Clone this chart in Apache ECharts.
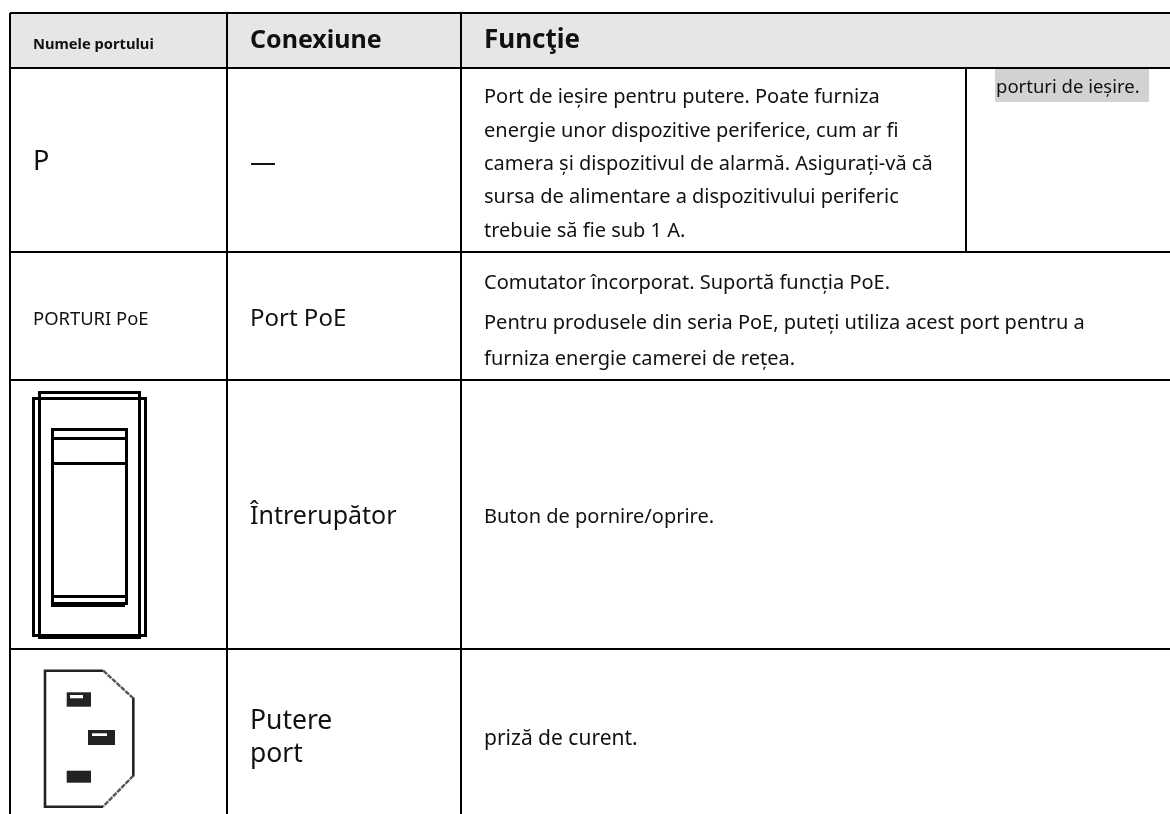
<!DOCTYPE html>
<html><head><meta charset="utf-8">
<style>html,body{margin:0;padding:0;background:#fff}#c{width:1170px;height:814px}</style>
<script src="https://cdn.jsdelivr.net/npm/echarts@6/dist/echarts.min.js"></script>
</head><body><div id="c"></div>
<script>
const F='"Noto Sans","Open Sans",sans-serif';
const headers=[["Numele portului",33,45,14.7,700],["Conexiune",250,41,25,700],["Funcţie",484,41,26,700]];
const nameCells=[["P",33,162,27],["PORTURI PoE",33,320,18.4]];
const connCells=[["—",250,164,26],["Port PoE",250,319,24],["Întrerupător",250,517,25],["Putere",250,721,26.5],["port",250,754,26.5]];
const funcCells=[
 ["Port de ieșire pentru putere. Poate furniza",484,97,20],
 ["energie unor dispozitive periferice, cum ar fi",484,131,20],
 ["camera și dispozitivul de alarmă. Asigurați-vă că",484,164.5,20],
 ["sursa de alimentare a dispozitivului periferic",484,197.5,20],
 ["trebuie să fie sub 1 A.",484,231.5,20],
 ["porturi de ieșire.",996,88,18.5],
 ["Comutator încorporat. Suportă funcția PoE.",484,283,20],
 ["Pentru produsele din seria PoE, puteți utiliza acest port pentru a",484,323,20],
 ["furniza energie camerei de rețea.",484,359,20],
 ["Buton de pornire/oprire.",484,517,20],
 ["priză de curent.",484,739,21]
];
const hLines=[[10,1170,13],[10,1170,68],[10,1170,252],[10,1170,380],[10,1170,649]];
const vLines=[[10,13,814],[227,13,814],[461,13,814],[966,68,252]];
const switchRects=[[39.5,392.5,100,245],[33.5,398.5,112,237],[52.5,429.5,74,174]];
const switchLines=[[52,126,438.5],[52,126,463.5],[52,126,596.5]];
const plugSolid=[[103.3,670.7],[45,670.7],[45,806.7],[103,806.7]];
const plugRight=[[133.3,697.5],[133.3,776.5]];
const plugDiag=[[[103.3,670.7],[133.3,698.3]],[[133.3,775.7],[103,806.7]]];
const slots=[[66.7,692.3,24.3,14.4],[88,730,27,15],[66.7,770.7,24.3,12]];
const glints=[[70,695,13,3.3],[92,733.3,15,2.7]];
const g=[];
g.push({type:'rect',shape:{x:10,y:13,width:1160,height:55},style:{fill:'#e6e6e6'}});
g.push({type:'rect',shape:{x:995,y:69,width:154,height:33},style:{fill:'#d2d2d2'}});
hLines.forEach(l=>g.push({type:'line',shape:{x1:l[0],x2:l[1],y1:l[2],y2:l[2]},style:{stroke:'#000',lineWidth:2}}));
vLines.forEach(l=>g.push({type:'line',shape:{x1:l[0],x2:l[0],y1:l[1],y2:l[2]},style:{stroke:'#000',lineWidth:2}}));
const txt=(s,x,y,size,w)=>g.push({type:'text',x:x,y:y,style:{text:s,fill:'#111',font:`${w||400} ${size}px ${F}`,textAlign:'left',textVerticalAlign:'middle'}});
headers.forEach(h=>txt(h[0],h[1],h[2],h[3],h[4]));
nameCells.forEach(c=>txt(c[0],c[1],c[2],c[3]));
connCells.forEach(c=>txt(c[0],c[1],c[2],c[3]));
funcCells.forEach(c=>txt(c[0],c[1],c[2],c[3]));
switchRects.forEach(r=>g.push({type:'rect',shape:{x:r[0],y:r[1],width:r[2],height:r[3]},style:{fill:'none',stroke:'#000',lineWidth:3}}));
switchLines.forEach(l=>g.push({type:'line',shape:{x1:l[0],x2:l[1],y1:l[2],y2:l[2]},style:{stroke:'#000',lineWidth:3}}));
g.push({type:'rect',shape:{x:51,y:602,width:74,height:5},style:{fill:'#000'}});
g.push({type:'polyline',shape:{points:plugSolid},style:{fill:'none',stroke:'#222',lineWidth:2.6}});
g.push({type:'polyline',shape:{points:plugRight},style:{fill:'none',stroke:'#222',lineWidth:2.6}});
plugDiag.forEach(p=>g.push({type:'polyline',shape:{points:p},style:{fill:'none',stroke:'#555',lineWidth:2.4,lineDash:[5,1]}}));
slots.forEach(r=>g.push({type:'rect',shape:{x:r[0],y:r[1],width:r[2],height:r[3]},style:{fill:'#222'}}));
glints.forEach(r=>g.push({type:'rect',shape:{x:r[0],y:r[1],width:r[2],height:r[3]},style:{fill:'#fff'}}));
const chart=echarts.init(document.getElementById('c'),null,{renderer:'canvas'});
chart.setOption({animation:false,backgroundColor:'#fff',graphic:{elements:g.map(e=>Object.assign({silent:true},e))}});
</script></body></html>
